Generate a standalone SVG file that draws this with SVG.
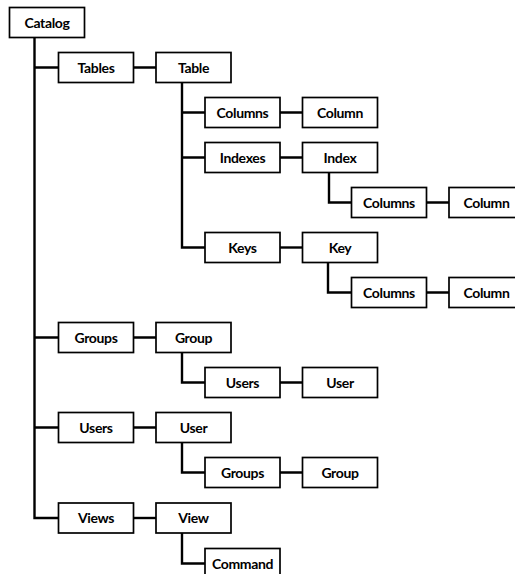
<svg xmlns="http://www.w3.org/2000/svg" width="515" height="574" viewBox="0 0 515 574">
<style>
.n rect{fill:#fff;stroke:#000;stroke-width:1.7}
.n text{font-family:Lato,"Open Sans","DejaVu Sans",sans-serif;font-weight:700;font-size:14px;letter-spacing:-0.35px;text-anchor:middle;fill:#000}
#connectors path{fill:none;stroke:#000;stroke-width:2.4}
</style>
<rect width="515" height="574" fill="#fff"/>
<g id="connectors">
<path d="M34.5 37.5V518H58.5"/>
<path d="M34.5 67.5H58.5M133.5 67.5H156"/>
<path d="M182 82.5V247.5H205"/>
<path d="M182 112.5H205M280 112.5H302.5"/>
<path d="M182 157.5H205M280 157.5H302.5"/>
<path d="M329 172.5V202.5H351.5M426.5 202.5H449"/>
<path d="M280 247.5H302.5"/>
<path d="M328 262.5V292.5H351.5M426.5 292.5H449"/>
<path d="M34.5 337.5H58.5M133.5 337.5H156"/>
<path d="M182 352.5V382.5H205M280 382.5H302.5"/>
<path d="M34.5 427.5H58.5M133.5 427.5H156"/>
<path d="M182 442.5V472.5H205M280 472.5H302.5"/>
<path d="M133.5 518H156"/>
<path d="M182 533V563.5H205"/>
</g>
<g id="catalog" class="n"><rect x="9.5" y="7.5" width="75" height="30"/><text x="47" y="27.5">Catalog</text></g>
<g id="tables" class="n"><rect x="58.5" y="52.5" width="75" height="30"/><text x="96" y="72.5">Tables</text></g>
<g id="table" class="n"><rect x="156" y="52.5" width="75" height="30"/><text x="193.5" y="72.5">Table</text></g>
<g id="table-columns" class="n"><rect x="205" y="97.5" width="75" height="30"/><text x="242.5" y="117.5">Columns</text></g>
<g id="table-column" class="n"><rect x="302.5" y="97.5" width="75" height="30"/><text x="340" y="117.5">Column</text></g>
<g id="indexes" class="n"><rect x="205" y="142.5" width="75" height="30"/><text x="242.5" y="162.5">Indexes</text></g>
<g id="index" class="n"><rect x="302.5" y="142.5" width="75" height="30"/><text x="340" y="162.5">Index</text></g>
<g id="index-columns" class="n"><rect x="351.5" y="187.5" width="75" height="30"/><text x="389" y="207.5">Columns</text></g>
<g id="index-column" class="n"><rect x="449" y="187.5" width="75" height="30"/><text x="486.5" y="207.5">Column</text></g>
<g id="keys" class="n"><rect x="205" y="232.5" width="75" height="30"/><text x="242.5" y="252.5">Keys</text></g>
<g id="key" class="n"><rect x="302.5" y="232.5" width="75" height="30"/><text x="340" y="252.5">Key</text></g>
<g id="key-columns" class="n"><rect x="351.5" y="277.5" width="75" height="30"/><text x="389" y="297.5">Columns</text></g>
<g id="key-column" class="n"><rect x="449" y="277.5" width="75" height="30"/><text x="486.5" y="297.5">Column</text></g>
<g id="groups" class="n"><rect x="58.5" y="322.5" width="75" height="30"/><text x="96" y="342.5">Groups</text></g>
<g id="group" class="n"><rect x="156" y="322.5" width="75" height="30"/><text x="193.5" y="342.5">Group</text></g>
<g id="group-users" class="n"><rect x="205" y="367.5" width="75" height="30"/><text x="242.5" y="387.5">Users</text></g>
<g id="group-user" class="n"><rect x="302.5" y="367.5" width="75" height="30"/><text x="340" y="387.5">User</text></g>
<g id="users" class="n"><rect x="58.5" y="412.5" width="75" height="30"/><text x="96" y="432.5">Users</text></g>
<g id="user" class="n"><rect x="156" y="412.5" width="75" height="30"/><text x="193.5" y="432.5">User</text></g>
<g id="user-groups" class="n"><rect x="205" y="457.5" width="75" height="30"/><text x="242.5" y="477.5">Groups</text></g>
<g id="user-group" class="n"><rect x="302.5" y="457.5" width="75" height="30"/><text x="340" y="477.5">Group</text></g>
<g id="views" class="n"><rect x="58.5" y="503" width="75" height="30"/><text x="96" y="523">Views</text></g>
<g id="view" class="n"><rect x="156" y="503" width="75" height="30"/><text x="193.5" y="523">View</text></g>
<g id="command" class="n"><rect x="205" y="548.5" width="75" height="30"/><text x="242.5" y="568.5">Command</text></g>
</svg>
